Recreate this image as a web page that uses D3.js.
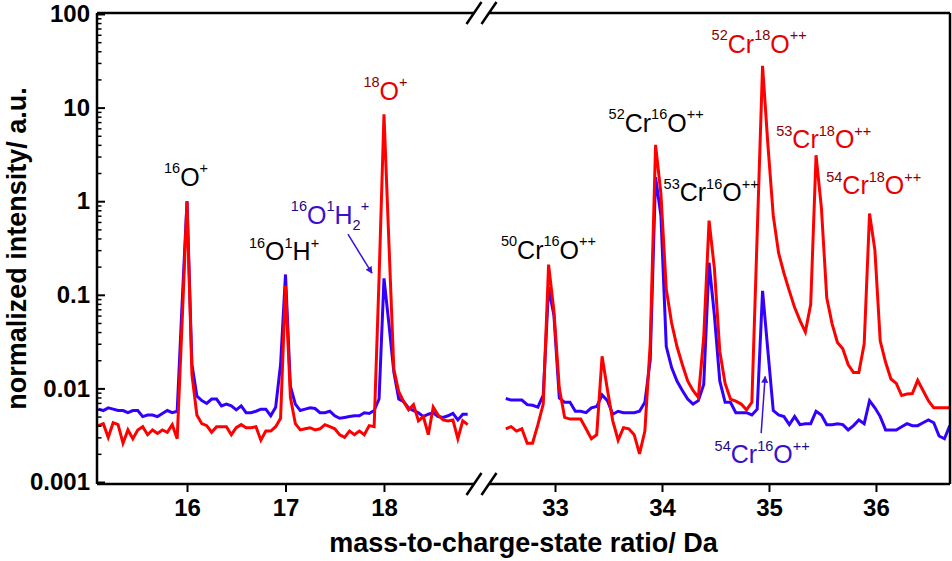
<!DOCTYPE html>
<html>
<head>
<meta charset="utf-8">
<script src="https://cdn.jsdelivr.net/npm/d3@7/dist/d3.min.js"></script>
<style>
  body { margin: 0; background: #fff; }
</style>
</head>
<body>
<div id="chart"></div>
<script>
// spectrum bins (Da)
const binWidth = 0.05;
const leftStart = 15.10;
const rightStart = 32.54;

// normalized intensities, low-mass window (15.10 .. 18.85 Da)
const leftBlue = [
  0.0060, 0.0058, 0.0062, 0.0060, 0.0058, 0.0058, 0.0055, 0.0058, 0.0058, 0.0050,
  0.0052, 0.0052, 0.0050, 0.0054, 0.0058, 0.0055, 0.0057, 0.08, 1.0, 0.018,
  0.0083, 0.0074, 0.0069, 0.0077, 0.0077, 0.0065, 0.0068, 0.0065, 0.0059, 0.0065,
  0.0055, 0.0055, 0.0057, 0.0060, 0.0060, 0.0051, 0.0063, 0.018, 0.165, 0.0105,
  0.0068, 0.0058, 0.0060, 0.0062, 0.0061, 0.0055, 0.0055, 0.0057, 0.0051, 0.0048,
  0.0049, 0.0050, 0.0051, 0.0051, 0.0055, 0.0054, 0.0058, 0.0077, 0.15, 0.049,
  0.015, 0.0077, 0.0072, 0.0062, 0.0058, 0.0055, 0.0050, 0.0053, 0.0055, 0.0050,
  0.0049, 0.0051, 0.0054, 0.0046, 0.0053, 0.0053
];
const leftRed = [
  0.0040, 0.0042, 0.0030, 0.0043, 0.0041, 0.0026, 0.0036, 0.0029, 0.0036, 0.0039,
  0.0032, 0.0036, 0.0033, 0.0036, 0.0034, 0.0041, 0.0029, 0.05, 1.0, 0.014,
  0.0052, 0.0042, 0.0040, 0.0034, 0.0039, 0.0039, 0.0039, 0.0032, 0.0038, 0.0041,
  0.0038, 0.0038, 0.0039, 0.0028, 0.0035, 0.0035, 0.0039, 0.0048, 0.125, 0.008,
  0.0042, 0.0036, 0.0037, 0.0038, 0.0036, 0.0037, 0.0041, 0.0039, 0.0037, 0.0032,
  0.0030, 0.0035, 0.0032, 0.0035, 0.0032, 0.0040, 0.0039, 0.15, 8.5, 0.36,
  0.016, 0.0092, 0.0072, 0.0059, 0.0067, 0.0045, 0.0050, 0.0032, 0.0063, 0.0052,
  0.0046, 0.0045, 0.0046, 0.0029, 0.0045, 0.0041
];

// normalized intensities, high-mass window (32.54 .. 36.69 Da)
const rightBlue = [
  0.0078, 0.0075, 0.0075, 0.0075, 0.0067, 0.0066, 0.0063, 0.0085, 0.12, 0.06,
  0.0079, 0.0071, 0.0071, 0.0057, 0.0057, 0.0055, 0.0062, 0.0064, 0.0085, 0.0074,
  0.0053, 0.0057, 0.0055, 0.0055, 0.0055, 0.0057, 0.0071, 0.02, 1.8, 0.7,
  0.028, 0.0167, 0.012, 0.0095, 0.0077, 0.0068, 0.0074, 0.011, 0.22, 0.06,
  0.012, 0.0071, 0.0071, 0.0055, 0.0055, 0.0055, 0.0052, 0.0060, 0.11, 0.025,
  0.0058, 0.0052, 0.0050, 0.0041, 0.0050, 0.0041, 0.0042, 0.0042, 0.0057, 0.0052,
  0.0041, 0.0041, 0.0042, 0.0041, 0.0036, 0.0040, 0.0046, 0.0042, 0.0074, 0.0062,
  0.0050, 0.0036, 0.0036, 0.0036, 0.0039, 0.0042, 0.0040, 0.0040, 0.0043, 0.0046,
  0.0043, 0.0031, 0.0029, 0.0040
];
const rightRed = [
  0.0037, 0.0039, 0.0035, 0.0037, 0.0026, 0.0026, 0.0041, 0.0068, 0.21, 0.067,
  0.0101, 0.0049, 0.0047, 0.0047, 0.0047, 0.0037, 0.0029, 0.0032, 0.022, 0.0097,
  0.0045, 0.0028, 0.0038, 0.0037, 0.0032, 0.0020, 0.0035, 0.03, 4.0, 1.2,
  0.115, 0.05, 0.028, 0.018, 0.012, 0.0095, 0.008, 0.035, 0.62, 0.19,
  0.025, 0.0113, 0.0077, 0.0073, 0.0068, 0.0059, 0.0071, 0.45, 28, 4.0,
  0.7, 0.28, 0.17, 0.11, 0.073, 0.053, 0.040, 0.079, 3.1, 0.85,
  0.093, 0.049, 0.031, 0.0265, 0.018, 0.0148, 0.0148, 0.030, 0.74, 0.30,
  0.032, 0.019, 0.0126, 0.0113, 0.0084, 0.0087, 0.0088, 0.0122, 0.0095, 0.0074,
  0.0062, 0.0062, 0.0062, 0.0062
];

const leftTicks = [16, 17, 18];
const rightTicks = [33, 34, 35, 36];
const yTicks = [0.001, 0.01, 0.1, 1, 10, 100];
const yTickLabels = ['0.001', '0.01', '0.1', '1', '10', '100'];

// peak labels: [text, 1 = superscript, -1 = subscript, 0 = normal]
const peakLabels = [
  { side: 'L', mz: 15.99, v: 1.47, tone: 'k', parts: [['16', 1], ['O', 0], ['+', 1]] },
  { side: 'L', mz: 16.985, v: 0.234, tone: 'k', parts: [['16', 1], ['O', 0], ['1', 1], ['H', 0], ['+', 1]] },
  { side: 'L', mz: 17.452, v: 0.571, tone: 'b', parts: [['16', 1], ['O', 0], ['1', 1], ['H', 0], ['2', -1], ['+', 1]] },
  { side: 'L', mz: 18.015, v: 12.2, tone: 'r', parts: [['18', 1], ['O', 0], ['+', 1]] },
  { side: 'R', mz: 32.939, v: 0.244, tone: 'k', parts: [['50', 1], ['Cr', 0], ['16', 1], ['O', 0], ['++', 1]] },
  { side: 'R', mz: 33.945, v: 5.5, tone: 'k', parts: [['52', 1], ['Cr', 0], ['16', 1], ['O', 0], ['++', 1]] },
  { side: 'R', mz: 34.459, v: 1.0, tone: 'k', parts: [['53', 1], ['Cr', 0], ['16', 1], ['O', 0], ['++', 1]] },
  { side: 'R', mz: 34.908, v: 38.5, tone: 'r', parts: [['52', 1], ['Cr', 0], ['18', 1], ['O', 0], ['++', 1]] },
  { side: 'R', mz: 35.512, v: 3.66, tone: 'r', parts: [['53', 1], ['Cr', 0], ['18', 1], ['O', 0], ['++', 1]] },
  { side: 'R', mz: 35.979, v: 1.18, tone: 'r', parts: [['54', 1], ['Cr', 0], ['18', 1], ['O', 0], ['++', 1]] },
  { side: 'R', mz: 34.936, v: 0.00159, tone: 'b', parts: [['54', 1], ['Cr', 0], ['16', 1], ['O', 0], ['++', 1]] }
];
const pointerArrows = [
  { side: 'L', from: [17.634, 0.444], to: [17.878, 0.17] },
  { side: 'R', from: [34.927, 0.00333], to: [34.964, 0.0134] }
];

const width = 952, height = 561;
const pTop = 13, pBottom = 484, pLeft = 97, pRight = 950;
const breakL = 474, breakR = 489;
const font = '"Liberation Sans", Arial, Helvetica, sans-serif';
const tones = {
  k: { main: '#000', sup: '#000' },
  r: { main: '#e60000', sup: '#8b0000' },
  b: { main: '#3a10d0', sup: '#1c0a88' }
};

const svg = d3.select('#chart').append('svg')
  .attr('width', width)
  .attr('height', height)
  .style('background', '#fff');

// scales
const xL = d3.scaleLinear().domain([15.086, 18.914]).range([pLeft, breakL]);
const xR = d3.scaleLinear().domain([32.383, 36.692]).range([breakR, pRight]);
const y = d3.scaleLog().domain([0.001, 100]).range([482, 14]);
const xOf = side => side === 'L' ? xL : xR;

// clip paths for the two windows
const defs = svg.append('defs');
defs.append('clipPath').attr('id', 'clipL').append('rect')
  .attr('x', pLeft).attr('y', pTop).attr('width', breakL - pLeft).attr('height', pBottom - pTop);
defs.append('clipPath').attr('id', 'clipR').append('rect')
  .attr('x', breakR).attr('y', pTop).attr('width', pRight - breakR).attr('height', pBottom - pTop);
defs.append('marker')
  .attr('id', 'head')
  .attr('viewBox', '0 0 10 10')
  .attr('refX', 9).attr('refY', 5)
  .attr('markerWidth', 9).attr('markerHeight', 7)
  .attr('markerUnits', 'userSpaceOnUse')
  .attr('orient', 'auto')
  .append('path').attr('d', 'M0,0L10,5L0,10Z').attr('fill', '#3a10e0');

// spectra
function drawSeries(vals, start, xs, clip, color) {
  const pts = vals.map((v, i) => [start + i * binWidth, v]);
  svg.append('path')
    .datum(pts)
    .attr('clip-path', `url(#${clip})`)
    .attr('fill', 'none')
    .attr('stroke', color)
    .attr('stroke-width', 3)
    .attr('stroke-linejoin', 'miter')
    .attr('d', d3.line().x(d => xs(d[0])).y(d => y(d[1])));
}
drawSeries(leftBlue, leftStart, xL, 'clipL', '#3300ff');
drawSeries(rightBlue, rightStart, xR, 'clipR', '#3300ff');
drawSeries(leftRed, leftStart, xL, 'clipL', '#ff0000');
drawSeries(rightRed, rightStart, xR, 'clipR', '#ff0000');

// frame with axis break
const frame = svg.append('g').attr('stroke', '#000').attr('stroke-width', 2.5).attr('fill', 'none');
[[pLeft, pTop, pLeft, pBottom], [pRight, pTop, pRight, pBottom],
 [pLeft, pBottom, breakL, pBottom], [breakR, pBottom, pRight, pBottom],
 [pLeft, pTop, breakL, pTop], [breakR, pTop, pRight, pTop]]
  .forEach(s => frame.append('line').attr('x1', s[0]).attr('y1', s[1]).attr('x2', s[2]).attr('y2', s[3]));
[breakL, breakR].forEach(bx => {
  [pTop, pBottom].forEach(by => {
    frame.append('line')
      .attr('x1', bx - 7.5).attr('y1', by + 11)
      .attr('x2', bx + 7.5).attr('y2', by - 11);
  });
});

// x axes
function xAxis(xs, ticks) {
  const g = svg.append('g')
    .attr('transform', `translate(0,${pBottom})`)
    .call(d3.axisBottom(xs).tickValues(ticks).tickFormat(d3.format('d')).tickSize(8).tickPadding(7).tickSizeOuter(0));
  g.select('.domain').remove();
  g.selectAll('line').attr('stroke-width', 2);
  g.selectAll('text').attr('font-family', font).attr('font-size', 24).attr('font-weight', 'bold').attr('fill', '#000');
}
xAxis(xL, leftTicks);
xAxis(xR, rightTicks);

// y axis, major and minor ticks pointing inward
const minor = [];
yTicks.slice(0, -1).forEach(d => { for (let m = 2; m <= 9; m++) minor.push(d * m); });
const yMinor = svg.append('g')
  .attr('transform', `translate(${pLeft},0)`)
  .call(d3.axisLeft(y).tickValues(minor).tickFormat('').tickSize(-4.5).tickSizeOuter(0));
yMinor.select('.domain').remove();
yMinor.selectAll('line').attr('stroke-width', 1.5);

const yMajor = svg.append('g')
  .attr('transform', `translate(${pLeft},0)`)
  .call(d3.axisLeft(y).tickValues(yTicks).tickFormat((d, i) => yTickLabels[i]).tickSize(-8).tickPadding(7).tickSizeOuter(0));
yMajor.select('.domain').remove();
yMajor.selectAll('line').attr('stroke-width', 2);
yMajor.selectAll('text').attr('font-family', font).attr('font-size', 24).attr('font-weight', 'bold').attr('fill', '#000');

// axis titles
svg.append('text')
  .attr('x', (pLeft + pRight) / 2).attr('y', 552)
  .attr('text-anchor', 'middle')
  .attr('font-family', font).attr('font-size', 27).attr('font-weight', 'bold')
  .text('mass-to-charge-state ratio/ Da');
svg.append('text')
  .attr('transform', `translate(26,${(pTop + pBottom) / 2}) rotate(-90)`)
  .attr('text-anchor', 'middle')
  .attr('font-family', font).attr('font-size', 27).attr('font-weight', 'bold')
  .text('normalized intensity/ a.u.');

// peak labels
const shift = { 1: -12.5, 0: 0, '-1': 5.6 };
peakLabels.forEach(lab => {
  const xs = xOf(lab.side);
  const c = tones[lab.tone];
  const t = svg.append('text')
    .attr('x', xs(lab.mz)).attr('y', y(lab.v))
    .attr('text-anchor', 'middle')
    .attr('font-family', font);
  let cur = 0;
  lab.parts.forEach(([txt, kind]) => {
    const s = shift[kind];
    t.append('tspan')
      .attr('dy', s - cur)
      .attr('font-size', kind === 0 ? 25 : 14.5)
      .attr('fill', kind === 0 ? c.main : c.sup)
      .text(txt);
    cur = s;
  });
});

// pointer arrows
pointerArrows.forEach(a => {
  const xs = xOf(a.side);
  svg.append('line')
    .attr('x1', xs(a.from[0])).attr('y1', y(a.from[1]))
    .attr('x2', xs(a.to[0])).attr('y2', y(a.to[1]))
    .attr('stroke', '#3a10e0').attr('stroke-width', 1.5)
    .attr('marker-end', 'url(#head)');
});
</script>
</body>
</html>
